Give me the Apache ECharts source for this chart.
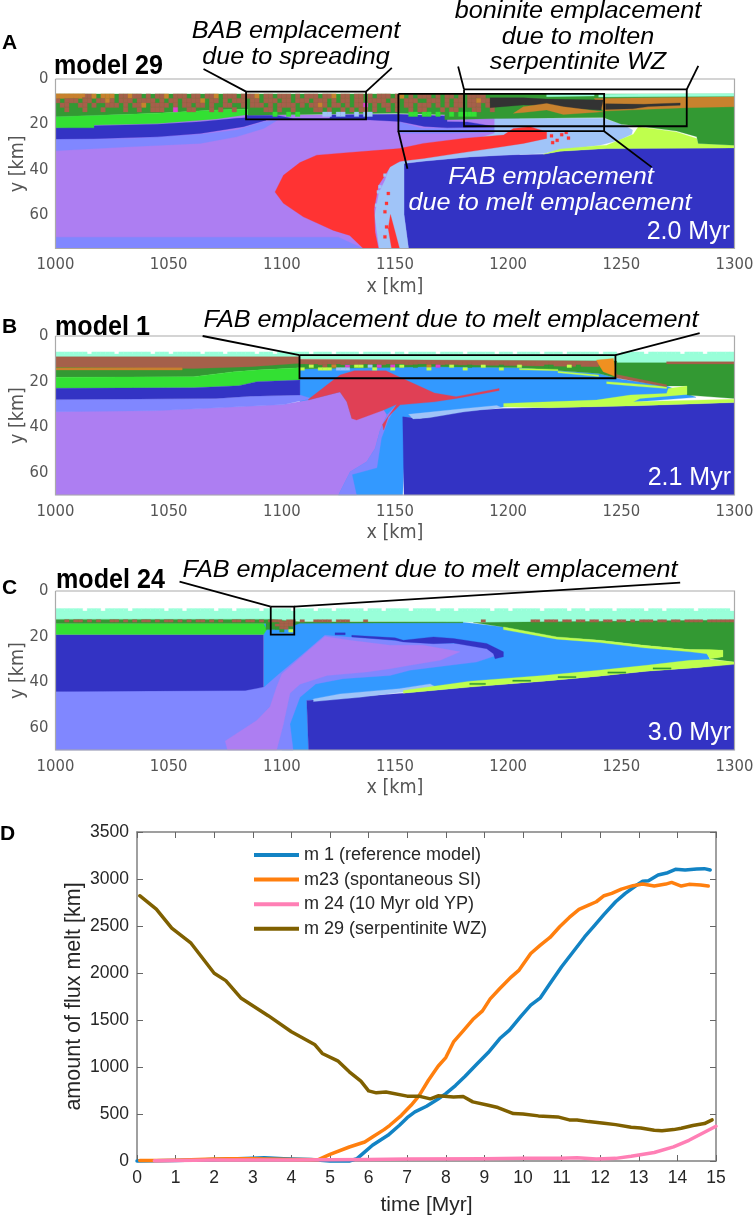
<!DOCTYPE html>
<html><head><meta charset="utf-8">
<style>html,body{margin:0;padding:0;background:#fff}#c{width:754px;height:1221px}</style>
<script src="https://cdn.jsdelivr.net/npm/echarts@6/dist/echarts.min.js"></script>
</head><body><div id="c"></div>
<script>
// ---------- colours of the model materials ----------
const COL={purple:'#AD7EF2',peri:'#8087FF',navy:'#3333C4',red:'#FF3333',crimson:'#E04055',lblue:'#A0C4F8',blue:'#3399FF',
 dgreen:'#339933',green:'#33E033',yg:'#BFFF4D',mint:'#99FFD9',brown:'#A5604A',orange:'#C8822E',amber:'#F09020',char:'#333333',magenta:'#E040D0'};
const RASTER_KEY={b:'brown',o:'orange',m:'magenta',g:'green',l:'lblue',y:'yg',w:'mint',d:'dgreen',a:'amber',r:'red'};

// ---------- panel A (model 29), km ----------
const a_purple=[[1000,15.8],[1205,15.8],[1205,75],[1000,75]];
const a_periBottom=[[1000,70],[1125,70],[1136,75],[1000,75]];
const a_peri=[[1000,26.6],[1033,26.3],[1064,24.5],[1080,22.6],[1092,18.9],[1098,18.2],[1092,21.9],[1080,25.6],[1064,28.5],[1033,30],[1000,31.8]];
const a_periR=[[1152,19],[1162,21.9],[1195,21.6],[1202,23.4],[1175,24],[1152,24]];
const a_navy=[[1000,21.6],[1017,20.7],[1045,20],[1064,18.9],[1080,17.4],[1093,16.7],[1093,18.2],[1083,21.1],[1064,24.1],[1045,25.6],[1017,26.4],[1000,26.6]];
const a_navy2=[[1084,16],[1098,16.2],[1105,17.5],[1121,17.5],[1122,15.8],[1152,15.6],[1173,16.5],[1173,18.9],[1182,19],[1195,21.2],[1173,21.6],[1163,21],[1152,18.8],[1137,18],[1098,18],[1084,18]];
const a_navyR=[[1154,37.4],[1162.5,36.4],[1183,34.5],[1198,33.7],[1215.6,33.3],[1223,32],[1243.5,30.8],[1300,30.5],[1300,75],[1156,75],[1154,60]];
const a_lblue=[[1194,17.4],[1242,17.4],[1251,20.4],[1255,22.6],[1254.6,24.5],[1249.4,27],[1240.6,29.3],[1223,31.5],[1215.6,33],[1198,33.7],[1183,34.5],[1162.5,36.4],[1154,37.4],[1154,60],[1156,75],[1143,75],[1141,60.4],[1143,50],[1145.6,44.8],[1148,38],[1194,24]];
const a_red=[[1097,50],[1100.7,42.6],[1108,37],[1115.4,33.7],[1130,32.5],[1152,30.8],[1162.5,28.5],[1180,26.3],[1198,24.8],[1202.3,21.9],[1209.7,21.1],[1217,23.4],[1217,26.3],[1206.7,28.5],[1192,30.8],[1177,33],[1162.5,35.2],[1152.2,36.4],[1147.8,38.9],[1145.6,42.6],[1142.7,47],[1140.8,57.4],[1141.2,67.8],[1142.7,75],[1136,75],[1130,69.2],[1122.8,67],[1109.5,61],[1100.7,55]];
const a_redStripe=[[1148,60],[1152,75],[1148.5,75],[1147,66]];
const a_ygreen=[[1243.5,29.3],[1255.3,24.5],[1257.5,21.1],[1274.4,23.4],[1283.3,26.3],[1284,28.5],[1300,29.3],[1300,30.5],[1243.5,30.8],[1223,32],[1215.6,33.3],[1223,31],[1240,29.5]];
const a_dgreen=[[1000,6.6],[1300,6.6],[1300,29.3],[1284,28.5],[1283.3,25.5],[1274.4,23],[1257.5,20.8],[1250,20],[1242,17],[1195,17.5],[1172,18],[1172,15.8],[1150,15.2],[1085,16],[1085,13.4],[1071,13.7],[1045,15.2],[1000,16.7]];
const a_green=[[1000,16.7],[1045,15.2],[1071,13.7],[1085,13.4],[1085,15.7],[1071,17.7],[1045,19.7],[1017,20.4],[1017,21.6],[1000,21.6]];
const a_orangeR=[[1238,8.6],[1300,7.8],[1300,12.3],[1279,12.7],[1242,14.2]];
const a_orangeL=[[1000,6.6],[1013,6.6],[1013,8],[1000,8.5]];
const a_char=[[1192,8.3],[1206.7,8.3],[1217,8.9],[1242,9.3],[1241,13.7],[1224.4,13],[1217,11.8],[1206.7,11.5],[1192,12.7]];
const a_orangeIn=[[1202.3,15.2],[1206.7,12.3],[1217,10.8],[1224.4,12.3],[1242,14.5],[1224.4,15.7],[1217,13.7],[1206.7,14.8]];
const a_charStripe=[[1243,10.9],[1260,11.2],[1276,10.6],[1276,11.6],[1262,12.2],[1255,13.2],[1243,13.5]];
const a_mint=[[1217,6.6],[1238,6.6],[1238,7.5],[1217,7.8]];
const a_mint2=[[1240,6.8],[1300,6.4],[1300,7.6],[1240,8]];
const a_lblueDots=[[1144.9,41.9],[1142.7,47],[1142,49.3],[1143.4,53],[1141.2,55.2],[1142.7,57.4],[1143.4,60.4],[1142,64],[1142.7,67.8]];
const a_redDots=[[1146.4,50],[1145.6,54.4],[1144.9,58.1],[1145.6,64.8],[1144.9,69.2],[1218.5,24.5],[1221,26.5],[1223,24],[1225,23],[1219,27.5],[1226,25.5]];
const a_rows=[
"oooooobbo.ooo.bbobb.b.bbo.bbb.bb.bbo.bbb.bbbo.bb.bbb.b.bbb.bbo.bb.bb.b.bbb.bo.b.bbb.b.bb.b.bbbb.",
"b.bbb.bb.bbob.bbb.bbbb.b.bb.bbbbo.bb.b.bbb.bb.bbb.bb.bbb.bbb.b.bb.bb.bbbb.bb.bbb..bbb.b.bb.bbobb",
".bb..bb.b..bbb.b.bbo.bbbb.b.bb.bb.b..bb..b.bbb.b.bbbb.b.bbob.bb.b.bbm.b.bb.b.bb.bbb.b.b.bb.bbb.bo",
"..b...b...b....b..b..bbb..m..bb...b.b..b......bb.b..b....bb.b..b.b.bb.b..b.b..b.bb...b.bb...bb..b",
"................................................g..g.g.....ll.ll..l.ll........gg.gg.g..g.gggg....."];

// ---------- panel B (model 1), km ----------
const b_purple=[[1000,33.1],[1044,32.7],[1101,30],[1112,28.2],[1125.7,24.6],[1128.7,29],[1130.9,36.3],[1145,32.6],[1146.4,34.8],[1143.4,41.5],[1141.2,49.5],[1137.5,55.4],[1130.2,59.8],[1125,70],[1000,70]];
const b_peri=[[1000,28],[1071,27.5],[1086,26.5],[1108,26],[1113,27.5],[1101,30.2],[1044,32.9],[1000,33.3]];
const b_peri2=[[1125,70],[1130.2,59.8],[1137.5,55.4],[1141.2,49.5],[1143.4,41.5],[1146.4,34.8],[1150.8,30.1],[1147,37],[1144,45],[1142,58],[1131,61],[1133,70]];
const b_blue=[[1108,14.5],[1165,13.3],[1205,14],[1240,16.5],[1250,19],[1270,22],[1283,27],[1250,29.5],[1200,31],[1175,34],[1155,36],[1153.4,70],[1125,70],[1125,30],[1108,30]];
const b_mint=[[1000,7.9],[1300,7.9],[1300,13],[1248,13],[1108,10],[1000,9.4]];
const b_dgreen=[[1000,13],[1108,11.5],[1108,14],[1089,15],[1079,15.7],[1061,17.9],[1000,18.2]];
const b_brown=[[1000,9.1],[1108,9.1],[1108,12],[1086,13.5],[1061,14.3],[1000,13.7]];
const b_orangeStrip=[[1000,14],[1056,14],[1056,15],[1000,15]];
const b_dgreen2=[[1108,10.8],[1248,11],[1248,18.5],[1240,16.5],[1205,14],[1190,13.8],[1165,13.5],[1108,14.5]];
const b_brown2=[[1108,10.2],[1240,11],[1240,13.5],[1190,12.9],[1165,12.3],[1108,12.3]];
const b_brownR=[[1270,11.3],[1300,11.3],[1300,12.3],[1270,12.3]];
const b_green=[[1000,18.2],[1061,17.9],[1079,15.7],[1089,15],[1108,14],[1108,19.4],[1089,20.1],[1081,21.9],[1061,22.8],[1000,23]];
const b_navy=[[1000,23],[1061,22.8],[1081,21.9],[1089,20.1],[1108,19.4],[1108,26],[1086,26.5],[1071,27.5],[1000,28]];
const b_crimson=[[1111.8,27.8],[1119.9,21.6],[1125.7,17.2],[1132,15.3],[1146,15.3],[1150,17.2],[1167.4,25.1],[1177,26.7],[1196,23.1],[1196,24],[1188.6,25.4],[1177,27.5],[1167.4,29],[1152.3,30.3],[1147,35.5],[1145,41.4],[1144.5,39],[1150.8,30.1],[1145,32.6],[1133,37],[1130.9,36.3],[1128.7,29],[1125.7,24.6],[1111.8,28.2]];
const b_dgreenR=[[1248,11.8],[1300,11.8],[1300,27.5],[1279,26],[1279,22],[1270,22],[1248,18]];
const b_ygLow=[[1198,29.7],[1218.5,29],[1239,28.2],[1254,26],[1270,25.3],[1270.8,23.1],[1279,22],[1279,25.7],[1258.3,27.5],[1255.3,29],[1300,27.8],[1300,29.3],[1256.8,30.7],[1218.5,31.6],[1198,31.2]];
const b_ygUp=[[1243.5,20.1],[1254,20.9],[1270,22.3],[1270,23.1],[1254,21.9],[1243.5,21]];
const b_ygDash1=[[1205,14.3],[1222,14.7],[1222,15.3],[1205,14.9]];
const b_ygDash2=[[1222,15.5],[1240,17.2],[1240,17.8],[1222,16.2]];
const b_amber=[[1239,10.6],[1246.5,9.9],[1248,18],[1242,15.7],[1240,12.5]];
const b_brownDiag=[[1248,17],[1270,21.5],[1270,22.3],[1248,18.5]];
const b_lblue=[[1156,34.5],[1180,32],[1195,30.6],[1197,31.5],[1180,33.5],[1165,36],[1158,36.5]];
const b_navyR=[[1153.4,35.6],[1161,36.3],[1180,33],[1198,31.9],[1218.5,31.6],[1256.8,30.7],[1300,29.3],[1300,70],[1154,70]];
const b_top=["mmmmmmm.mmmmm.mmmmmmm.mmm.mmmmmm.mmmm.mmmmmm.mmm.mmmmmmm.mmmm.mmmmm.mmmmmm.mm.mmmmmm.mmmmm.mmmmmm.mmm.mmmmm.mmmm.mmmmmmm.mmm.mmmmm.mmmmmmm.mmmm.mmmmmmm"];
const b_rows=[
"..b.bb.b.b.bbb.b.bb.b..bbb..b.bb.b.bbb..b.b.bb..bb.b...b..b.bb.b",
"d.y..b.o..m.yy.l.m..m.y..d..o.m..y...d..y...d...y.....dd...y.d..",
"y...yyy.lll.....y...y.......y.......y.......y..................."];

// ---------- panel C (model 24), km ----------
const c_mint=[[1000,8.8],[1300,8.8],[1300,12.9],[1200,13.9],[1100,13],[1000,12.5]];
const c_peri=[[1000,44.2],[1092,42.5],[1098,37.2],[1109.5,27.6],[1119,19.5],[1147.8,21.7],[1161,22.9],[1180,23.2],[1192,24.6],[1195,28.3],[1186,31.3],[1174.3,32.7],[1156.6,34.9],[1147.8,37.2],[1127,38.6],[1115,40.9],[1108,46.8],[1103.6,58.6],[1105,70],[1000,70]];
const c_blue=[[1092,14.3],[1108,14],[1180,13.8],[1198,15.8],[1221.5,20.2],[1240.6,22],[1259.8,24.6],[1280.4,26.1],[1287.7,26.8],[1289.2,30.5],[1280.4,31.3],[1261.2,34.2],[1239.1,36.4],[1215.6,38.6],[1183.2,40.1],[1161,43],[1153.7,43],[1111,48.2],[1111.8,70],[1100,70],[1092,43]];
const c_purple=[[1075,66],[1076,70],[1097.7,70],[1100.7,58.6],[1103.6,45],[1108,41],[1120,37.2],[1137.5,35.7],[1147.8,34.2],[1156.6,32.7],[1170,30.5],[1178.7,26.8],[1162.5,23.9],[1147.8,23.9],[1130,21.7],[1119,20],[1112,26],[1100,36.5],[1097.7,42.3],[1094.8,51],[1088.9,57]];
const c_navyRim=[[1130.9,19.5],[1150,20.6],[1153.7,21.7],[1167,20.2],[1175.8,20.9],[1190.5,23.1],[1197.9,26.8],[1197.9,29],[1194.2,29.8],[1193.5,27.6],[1190.5,25.4],[1175.8,22.9],[1167,23.2],[1153.7,22.4],[1150,21.7],[1130.9,20.2]];
const c_navyDash=[[1123.5,18.4],[1128,18.4],[1128,19.3],[1123.5,19.3]];
const c_navyL=[[1000,19.2],[1091.9,19.2],[1091.9,42.3],[1083.8,43.8],[1000,44.2]];
const c_green=[[1000,14.3],[1091.9,14.3],[1093.3,17],[1091.9,19.2],[1000,19.2]];
const c_dgreenL=[[1000,12.5],[1096,12.5],[1108,13.5],[1180,13.6],[1180,14],[1108,14.2],[1100,17],[1093,17],[1093,14.3],[1000,14.3]];
const c_navyR=[[1111,48.2],[1153.7,45],[1183.2,42.3],[1215.6,39.7],[1239,37.6],[1261.2,35.3],[1283.1,33.8],[1300,32],[1300,70],[1111.8,70]];
const c_lblue=[[1114,47.5],[1125.7,45.3],[1152,43],[1165.5,40.9],[1168,42.3],[1153.7,44.5],[1134.6,46.8],[1114,48.7]];
const c_ygLow=[[1153.7,43.8],[1183.2,39.7],[1215.6,37.2],[1239,35],[1261.2,32.7],[1280.4,30.5],[1289.2,30.2],[1300,31.3],[1300,32.3],[1283.1,33.8],[1261.2,35.3],[1239,37.6],[1215.6,39.7],[1183.2,42.3],[1153.7,45]];
const c_dgreenR=[[1184.6,13.9],[1300,12.8],[1300,31.3],[1289.2,29.8],[1294.9,29],[1294.9,26.1],[1280.4,25.8],[1259.8,23.9],[1240.6,21.7],[1221.5,20.2],[1197.9,15.8]];
const c_ygUp=[[1197.9,15.8],[1221.5,20.2],[1240.6,21.7],[1259.8,23.9],[1280.4,25.8],[1289.2,25.8],[1294.9,26.1],[1294.9,29],[1289.2,29.8],[1287.7,27.6],[1280.4,26.8],[1259.8,25],[1240.6,22.7],[1221.5,21.2],[1197.9,17]];
const c_dashes=[[[1183,40.6],[1190,40.6],[1190,41.2],[1183,41.2]],[[1202,39.2],[1210,39.2],[1210,39.8],[1202,39.8]],[[1222,37.6],[1230,37.6],[1230,38.2],[1222,38.2]],[[1244,35.6],[1252,35.6],[1252,36.2],[1244,36.2]],[[1264,33.8],[1272,33.8],[1272,34.4],[1264,34.4]]];
const c_top=["mmmmmm.mmm.mmmmm.mmmmmmm.mmm.mmmmmm.mmm.mmmmm.mmmmmm.mmmm.mmm.mmmmmm.mmm.mmmmm.mmmmm.mmm.mmmmmmm.mmm.mmmmmm.mmmmm.mmm.mmmmm.mmmmmm.mmm.mmmmmm.mmmmmmm"];
const c_row=["..b.bb.b.b..bb.b.b.bb.b.bb.b.b.bb.b.b..bb.bb.b.bbb.bb.b..bbbb.bbb...b.........................b..........bb.bbb.bb.bb.bb.bb.bb.b.bbb.bb.bb.bbbb.bbbbbbb"];
const c_box=[".bbb","bbbb","dbbd",".d.y"];

// ---------- annotation boxes and leader lines, km ----------
const a_boxes=[[[1084.2,5.6],[1137.2,5.6],[1137.2,17.9],[1084.2,17.9],[1084.2,5.6]],[[1180.5,4.6],[1278.9,4.6],[1278.9,20.9],[1180.5,20.9],[1180.5,4.6]],[[1151.5,6.6],[1242.4,6.6],[1242.4,23.1],[1151.5,23.1],[1151.5,6.6]]];
const a_leaders=[[[1065.4,-4.4],[1084.2,5.6]],[[1148.6,-4.9],[1137.2,5.6]],[[1177.9,-5.5],[1180.5,4.6]],[[1284,-5.8],[1278.9,4.6]],[[1151.5,23.1],[1155.5,39.7]],[[1242.4,23.1],[1263.4,39]]];
const b_boxes=[[[1107.8,8.4],[1247.4,8.4],[1247.4,18.6],[1107.8,18.6],[1107.8,8.4]]];
const b_leaders=[[[1065,0],[1107.8,8.4]],[[1284.6,-1.3],[1247.4,8.4]]];
const c_boxes=[[[1095.1,6.9],[1105.5,6.9],[1105.5,19.2],[1095.1,19.2],[1095.1,6.9]]];
const c_leaders=[[[1054.8,-4.1],[1095.1,6.9]],[[1276,-3.7],[1105.5,6.9]]];

// ---------- panel D series: [time Myr, flux melt km] ----------
const m1=[[0,0],[1,5],[2,15],[3,30],[3.3,35],[3.8,25],[4.5,15],[5,0],[5.5,0],[5.7,25],[5.85,78],[6.1,167],[6.5,273],[6.8,380],[7,461],[7.2,522],[7.5,582],[7.8,660],[8,717],[8.25,802],[8.5,901],[8.8,1029],[9.1,1154],[9.4,1303],[9.65,1392],[9.95,1541],[10.2,1658],[10.45,1736],[10.7,1889],[11,2066],[11.3,2226],[11.6,2386],[11.85,2503],[12.1,2624],[12.4,2758],[12.65,2847],[12.95,2936],[13.1,2975],[13.25,2982],[13.5,3042],[13.75,3067],[13.95,3103],[14.2,3096],[14.5,3106],[14.7,3110],[14.85,3096]];
const m23=[[0.07,5],[0.5,5],[1,8],[2,20],[2.4,25],[3,25],[4,15],[4.7,14],[5,71],[5.5,149],[5.9,202],[6.1,256],[6.4,334],[6.55,380],[6.85,486],[7.1,593],[7.3,690],[7.55,859],[7.8,1008],[8,1100],[8.2,1267],[8.45,1384],[8.7,1505],[8.95,1597],[9.15,1725],[9.4,1835],[9.7,1959],[9.9,2031],[10.2,2208],[10.45,2297],[10.7,2378],[10.95,2492],[11.2,2591],[11.45,2676],[11.7,2722],[11.9,2758],[12.1,2822],[12.3,2847],[12.55,2893],[12.85,2929],[13.1,2946],[13.4,2925],[13.7,2946],[13.85,2964],[14.1,2925],[14.3,2943],[14.6,2936],[14.8,2925]];
const m24=[[0.45,3],[2,10],[4,10],[6,15],[7,20],[9,25],[10,30],[11,30],[11.4,35],[11.9,22],[12.4,28],[12.8,50],[13.4,90],[13.9,150],[14.3,220],[14.6,285],[15,370]];
const m29=[[0.07,2822],[0.5,2680],[0.9,2477],[1.4,2317],[2,1997],[2.3,1919],[2.7,1731],[3.4,1546],[4,1375],[4.6,1240],[4.8,1144],[5.2,1066],[5.5,949],[5.8,849],[6,746],[6.2,725],[6.45,735],[7,690],[7.3,690],[7.6,661],[7.8,693],[8.2,682],[8.45,686],[8.7,629],[9.1,593],[9.35,569],[9.75,505],[10,501],[10.4,480],[10.9,469],[11.2,437],[11.4,437],[11.7,419],[12.1,402],[12.4,387],[12.8,359],[13.05,352],[13.4,327],[13.6,323],[13.9,334],[14.1,348],[14.4,377],[14.7,398],[14.9,437]];
const lineColors=['#1283C4','#FF7F0E','#FF7FB5','#7F6000'];
const lineNames=['m 1 (reference model)','m23 (spontaneous SI)','m 24 (10 Myr old YP)','m 29 (serpentinite WZ)'];

// ---------- free text ----------
const ITAL='italic 23px "Liberation Sans",Arial,sans-serif', BOLD='bold 27px "Liberation Sans",Arial,sans-serif',
 LET='bold 21px "Liberation Sans",Arial,sans-serif', TIME='25px "Liberation Sans",Arial,sans-serif';
const IS=1.095;
const labels=[
 ['A',2,43,LET,'#000','left',1],['B',2,327,LET,'#000','left',1],['C',2,588,LET,'#000','left',1],['D',0,834,LET,'#000','left',1],
 ['model 29',54,67,BOLD,'#000','left',.93],['model 1',55,328,BOLD,'#000','left',.93],['model 24',56,581,BOLD,'#000','left',.93],
 ['BAB emplacement',296,32,ITAL,'#000','center',IS],['due to spreading',296,58,ITAL,'#000','center',IS],
 ['boninite emplacement',578,12,ITAL,'#000','center',IS],['due to molten',578,38,ITAL,'#000','center',IS],['serpentinite WZ',578,63,ITAL,'#000','center',IS],
 ['FAB emplacement',551,178,ITAL,'#fff','center',IS],['due to melt emplacement',550,204,ITAL,'#fff','center',IS],
 ['FAB emplacement due to melt emplacement',451,321,ITAL,'#000','center',IS],
 ['FAB emplacement due to melt emplacement',430,571,ITAL,'#000','center',IS],
 ['2.0 Myr',730,232,TIME,'#fff','right',1],['2.1 Myr',731,478,TIME,'#fff','right',1],['3.0 Myr',731,733,TIME,'#fff','right',1]
];

// ---------- builders ----------
const poly=(c,pts)=>({c:COL[c],pts});
function raster(rows,x0,y0,dx,dy,key){const out=[];rows.forEach((r,j)=>{[...r].forEach((ch,i)=>{const n=key[ch];if(!n)return;
  const x=x0+i*dx,y=y0+j*dy;if(x+dx>1300)return;out.push(poly(n,[[x,y],[x+dx,y],[x+dx,y+dy],[x,y+dy]]));});});return out;}
function dots(c,list,s){return list.map(([x,y])=>poly(c,[[x,y],[x+s,y],[x+s,y+s],[x,y+s]]));}
const line=(pts,w,col)=>({line:true,pts,w,col});
const frame=(ymax)=>line([[1000,0],[1300,0],[1300,ymax],[1000,ymax],[1000,0]],1.2,'#aaaaaa');
const black=(arr)=>arr.map(p=>line(p,1.8,'#000'));

const regA=[poly('purple',a_purple),poly('peri',a_periBottom),poly('peri',a_peri),poly('peri',a_periR),poly('navy',a_navy),poly('navy',a_navy2),poly('navy',a_navyR),
 poly('lblue',a_lblue),poly('red',a_red),poly('red',a_redStripe),...dots('lblue',a_lblueDots,1.3),...dots('red',a_redDots,1.3),poly('yg',a_ygreen),poly('dgreen',a_dgreen),poly('green',a_green),
 ...raster(a_rows,1000,6.6,2,2,RASTER_KEY),poly('orange',a_orangeL),poly('orange',a_orangeR),poly('char',a_char),poly('orange',a_orangeIn),poly('char',a_charStripe),poly('mint',a_mint),poly('mint',a_mint2),
 frame(75),...black(a_boxes),...black(a_leaders)];
const regB=[poly('blue',b_blue),poly('purple',b_purple),poly('peri',b_peri),poly('peri',b_peri2),poly('crimson',b_crimson),poly('navy',b_navyR),poly('lblue',b_lblue),
 ...raster(b_top,1000,7,2,1,RASTER_KEY).map(r=>({c:COL.mint,pts:r.pts})),poly('mint',b_mint),poly('dgreen',b_dgreen),poly('brown',b_brown),poly('orange',b_orangeStrip),poly('dgreen',b_dgreen2),poly('brown',b_brown2),poly('dgreen',b_dgreenR),poly('brown',b_brownR),
 poly('green',b_green),poly('navy',b_navy),poly('yg',b_ygLow),poly('yg',b_ygUp),poly('yg',b_ygDash1),poly('yg',b_ygDash2),poly('amber',b_amber),poly('brown',b_brownDiag),
 ...raster(b_rows,1108,11.5,2,1.2,RASTER_KEY),frame(70),...black(b_boxes),...black(b_leaders)];
const regC=[poly('peri',c_peri),poly('blue',c_blue),poly('peri',c_peri),poly('purple',c_purple),poly('navy',c_navyRim),poly('navy',c_navyDash),poly('navy',c_navyL),poly('green',c_green),poly('mint',c_mint),
 ...raster(c_top,1000,7.7,2,1.2,RASTER_KEY).map(r=>({c:COL.mint,pts:r.pts})),poly('dgreen',c_dgreenL),poly('navy',c_navyR),poly('lblue',c_lblue),poly('dgreen',c_dgreenR),poly('yg',c_ygLow),poly('yg',c_ygUp),...c_dashes.map(d=>poly('dgreen',d)),
 ...raster(c_row,1000,12.6,2,1.1,RASTER_KEY),...raster(c_box,1097,13.3,2,1.2,RASTER_KEY),frame(70),...black(c_boxes),...black(c_leaders)];

function modelSeries(i,reg){return {type:'custom',coordinateSystem:'cartesian2d',xAxisIndex:i,yAxisIndex:i,silent:true,animation:false,clip:false,z:2,
  data:reg.map((_,k)=>[k,0]),encode:{x:-1,y:-1},
  renderItem(p,api){const r=reg[api.value(0)];const pts=r.pts.map(q=>api.coord(q));
    return r.line?{type:'polyline',shape:{points:pts},style:{stroke:r.col,lineWidth:r.w,fill:null}}
      :{type:'polygon',shape:{points:pts},style:{fill:r.c,stroke:r.c,lineWidth:.3}};}};}

const TICK='"DejaVu Sans Condensed","DejaVu Sans",sans-serif', ARIAL='"Liberation Sans",Arial,sans-serif';
const plain=v=>String(v);
const grids=[{left:55.5,top:79,width:679,height:169.5},{left:55.5,top:336,width:679,height:159},{left:55.5,top:591,width:679,height:159},{left:137,top:832,width:579,height:329}].map(g=>({...g,outerBoundsMode:'none',containLabel:false}));
const ymax=[75,70,70];
const xAxis=[0,1,2].map(i=>({type:'value',gridIndex:i,min:1000,max:1300,interval:50,name:'x [km]',nameLocation:'middle',nameGap:28,nameMoveOverlap:false,
  nameTextStyle:{fontFamily:TICK,fontSize:19.5,color:'#555'},axisLine:{show:false},axisTick:{show:false},splitLine:{show:false},
  axisLabel:{fontFamily:TICK,fontSize:16.5,color:'#555',margin:8,formatter:plain,showMinLabel:true,showMaxLabel:true}}));
const yAxis=[0,1,2].map(i=>({type:'value',gridIndex:i,min:0,max:ymax[i],interval:20,inverse:true,name:'y [km]',nameLocation:'middle',nameGap:28,nameMoveOverlap:false,
  nameTextStyle:{fontFamily:TICK,fontSize:19.5,color:'#555'},axisLine:{show:false},axisTick:{show:false},splitLine:{show:false},
  axisLabel:{fontFamily:TICK,fontSize:16.5,color:'#555',margin:7,showMaxLabel:false,formatter:plain}}));
const dLine={show:true,onZero:false,lineStyle:{color:'#808080',width:1.5}};
const dTick={show:true,inside:true,length:6,lineStyle:{color:'#666',width:1}};
xAxis.push({type:'value',gridIndex:3,min:0,max:15,interval:1,name:'time [Myr]',nameLocation:'middle',nameGap:34,nameMoveOverlap:false,nameTextStyle:{fontFamily:ARIAL,fontSize:21,color:'#262626'},
  axisLine:dLine,axisTick:dTick,splitLine:{show:false},axisLabel:{fontFamily:ARIAL,fontSize:17.5,color:'#262626',margin:8,formatter:plain}});
xAxis.push({type:'value',gridIndex:3,min:0,max:15,interval:1,position:'top',axisLine:dLine,axisTick:dTick,splitLine:{show:false},axisLabel:{show:false}});
yAxis.push({type:'value',gridIndex:3,min:0,max:3500,interval:500,name:'amount of flux melt [km]',nameLocation:'middle',nameGap:52,nameMoveOverlap:false,nameTextStyle:{fontFamily:ARIAL,fontSize:21.5,color:'#262626'},
  axisLine:dLine,axisTick:dTick,splitLine:{show:false},axisLabel:{fontFamily:ARIAL,fontSize:17.5,color:'#262626',margin:8,formatter:plain}});
yAxis.push({type:'value',gridIndex:3,min:0,max:3500,interval:500,position:'right',axisLine:dLine,axisTick:dTick,splitLine:{show:false},axisLabel:{show:false}});

const lineSeries=[m1,m23,m24,m29].map((d,i)=>({type:'line',name:lineNames[i],xAxisIndex:3,yAxisIndex:3,data:d,showSymbol:false,symbol:'none',animation:false,silent:true,clip:false,z:3,
  lineStyle:{color:lineColors[i],width:3.5,cap:'round',join:'round'},itemStyle:{color:lineColors[i]}}));

const chart=echarts.init(document.getElementById('c'),null,{renderer:'canvas'});
chart.setOption({animation:false,backgroundColor:'#fff',grid:grids,xAxis,yAxis,
  legend:{data:lineNames,orient:'vertical',left:249,top:841,itemWidth:45,itemHeight:4,itemGap:6.6,icon:'rect',selectedMode:false,
    textStyle:{fontFamily:ARIAL,fontSize:18,color:'#262626'}},
  series:[modelSeries(0,regA),modelSeries(1,regB),modelSeries(2,regC),...lineSeries],
  graphic:labels.map(([text,x,y,font,fill,align,sx])=>({type:'text',x,y,scaleX:sx,z:50,silent:true,style:{text,font,fill,textAlign:align,textVerticalAlign:'middle'}}))
});
</script></body></html>
